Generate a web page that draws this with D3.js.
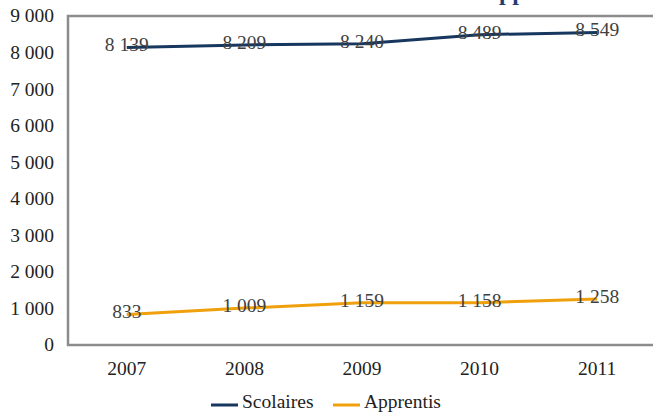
<!DOCTYPE html>
<html>
<head>
<meta charset="utf-8">
<script src="https://cdn.jsdelivr.net/npm/d3@7"></script>
<style>
  body { margin: 0; background: #fff; }
</style>
</head>
<body>
<div id="chart"></div>
<script>
const years = ["2007", "2008", "2009", "2010", "2011"];
const scolaires = [8139, 8209, 8240, 8489, 8549];
const apprentis = [833, 1009, 1159, 1158, 1258];
const yTicks = [0, 1000, 2000, 3000, 4000, 5000, 6000, 7000, 8000, 9000];
const seriesNames = ["Scolaires", "Apprentis"];
const colors = ["#17375e", "#f0a00c"];

const width = 653, height = 413;
const margin = {top: 16, right: -3, bottom: 68, left: 68};
const serif = "Liberation Serif";
const fs = "19.5px";

const svg = d3.select("#chart").append("svg")
    .attr("width", width)
    .attr("height", height);

// spaces as thousands separator
const fmt = d => d3.format(",")(d).replace(/,/g, " ");

const x = d3.scaleBand()
    .domain(years)
    .range([margin.left, width - margin.right]);

const y = d3.scaleLinear()
    .domain([0, 9000])
    .range([height - margin.bottom, margin.top]);

// title, almost all of it above the top of the window
const title = svg.append("text")
    .attr("y", -0.5)
    .style("font-family", serif)
    .style("font-size", "24px")
    .style("font-weight", "bold")
    .style("fill", "#1f3f73");
title.text("Scolaires et a");
const pre = title.node().getComputedTextLength();
title.text("Scolaires et apprentis").attr("x", 499 - pre);

// plot frame
svg.append("rect")
    .attr("x", margin.left)
    .attr("y", margin.top)
    .attr("width", width - margin.right - margin.left + 10)
    .attr("height", height - margin.bottom - margin.top)
    .attr("fill", "none")
    .attr("stroke", "#8c8c8c")
    .attr("stroke-width", 2.5);

// y axis labels
svg.append("g")
    .selectAll("text")
    .data(yTicks)
    .join("text")
    .attr("x", 54)
    .attr("y", d => y(d))
    .attr("dy", "0.33em")
    .attr("text-anchor", "end")
    .style("font-family", serif)
    .style("font-size", fs)
    .style("fill", "#222")
    .text(fmt);

// x axis labels
svg.append("g")
    .selectAll("text")
    .data(years)
    .join("text")
    .attr("x", d => x(d) + x.bandwidth() / 2)
    .attr("y", 375)
    .attr("text-anchor", "middle")
    .style("font-family", serif)
    .style("font-size", fs)
    .style("fill", "#222")
    .text(d => d);

const line = d3.line()
    .x((d, i) => x(years[i]) + x.bandwidth() / 2)
    .y(d => y(d));

[scolaires, apprentis].forEach((vals, k) => {
    svg.append("path")
        .datum(vals)
        .attr("d", line)
        .attr("fill", "none")
        .attr("stroke", colors[k])
        .attr("stroke-width", 3);

    svg.append("g")
        .selectAll("text")
        .data(vals)
        .join("text")
        .attr("x", (d, i) => x(years[i]) + x.bandwidth() / 2)
        .attr("y", d => y(d))
        .attr("dy", "0.2em")
        .attr("text-anchor", "middle")
        .style("font-family", serif)
        .style("font-size", fs)
        .style("fill", "#404040")
        .text(fmt);
});

// legend
const legend = svg.append("g");
const legX = [211, 333];
seriesNames.forEach((name, k) => {
    legend.append("line")
        .attr("x1", legX[k]).attr("x2", legX[k] + 27)
        .attr("y1", 405).attr("y2", 405)
        .attr("stroke", colors[k])
        .attr("stroke-width", 3);
    legend.append("text")
        .attr("x", legX[k] + 31)
        .attr("y", 402)
        .attr("dy", "0.33em")
        .style("font-family", serif)
        .style("font-size", fs)
        .style("fill", "#222")
        .text(name);
});
</script>
</body>
</html>
